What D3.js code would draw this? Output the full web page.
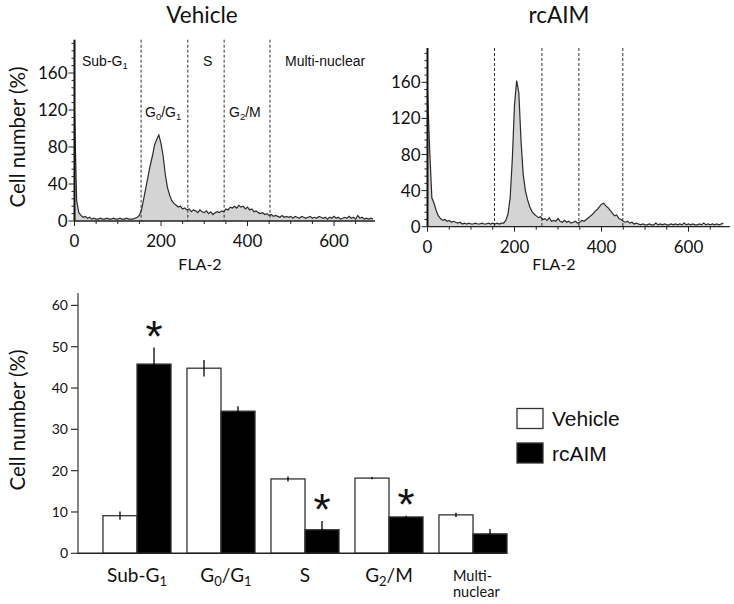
<!DOCTYPE html>
<html><head><meta charset="utf-8">
<script src="https://cdn.jsdelivr.net/npm/d3@7/dist/d3.min.js"></script>
<style>body{margin:0;background:#fff}svg{display:block}</style>
</head><body>
<svg id="c" width="734" height="604"></svg>
<script>
// ---------- DATA ----------
// FLA-2 channel bins (5-unit bins starting at 0)
const binWidth = 5;
const vehicleHist = [118,22,9,6,4,5,3,4,2,3,2,2,3,2,2,3,2,2,3,2,2,3,2,2,3,2,2,2,3,4,
  6,12,24,36,48,60,70,82,88,93,84,70,50,36,28,22,19,17,15,16,13,14,12,13,10,12,11,9,12,10,
  9,11,8,10,7,9,10,9,11,10,13,12,15,14,16,14,17,15,16,13,15,12,13,10,11,9,8,9,7,8,
  6,7,5,6,5,4,6,4,5,4,5,3,5,4,3,5,4,3,4,5,3,4,3,5,4,3,4,2,4,3,
  5,3,4,2,3,4,3,5,3,4,2,6,3,4,2,3,2,3,2];
const rcaimHist = [150,85,32,26,18,12,9,7,8,6,7,5,6,5,4,5,3,4,3,4,3,3,4,3,3,4,3,3,4,3,
  4,3,4,3,4,4,7,14,32,75,135,162,148,95,58,40,30,22,17,14,12,10,11,8,9,7,10,6,7,6,
  9,6,5,7,5,6,4,5,6,4,5,7,6,8,10,12,14,17,19,22,25,26,23,21,18,15,12,13,9,8,
  6,5,6,4,5,3,4,3,2,3,2,2,3,2,2,4,2,3,2,3,2,2,3,2,3,2,3,2,4,2,
  3,2,3,2,2,3,2,4,2,3,2,3,2,3,2,3,4];
const vehicleGates = [154, 262, 346, 452];
const rcaimGates = [154, 263, 348, 449];
const histXTicks = [0, 200, 400, 600];
const histYTicks = [0, 40, 80, 120, 160];

const phases = ["Sub-G_1", "G_0/G_1", "S", "G_2/M", "Multi-nuclear"];
const vehicleMean = [9.1, 44.8, 18.0, 18.2, 9.3];
const vehicleErr  = [1.0, 2.0, 0.6, 0.25, 0.5];
const rcaimMean   = [45.8, 34.4, 5.7, 8.8, 4.7];
const rcaimErr    = [4.0, 1.2, 2.1, 0.3, 1.2];
const significant = [true, false, true, true, false];
const barYTicks = [0, 10, 20, 30, 40, 50, 60];
const seriesNames = ["Vehicle", "rcAIM"];

// ---------- HELPERS ----------
const svg = d3.select("#c");
const CAL = "Lato, 'Open Sans', sans-serif";
const ARI = "'Liberation Sans', Arial, sans-serif";

function richText(sel, str, subSize, shift) {
  // "_x" => x as subscript
  const parts = [];
  let i = 0, buf = "";
  while (i < str.length) {
    if (str[i] === "_") { if (buf) parts.push([buf, false]); buf = ""; parts.push([str[i+1], true]); i += 2; }
    else { buf += str[i]; i++; }
  }
  if (buf) parts.push([buf, false]);
  let prevSub = false;
  parts.forEach(([t, sub]) => {
    const ts = sel.append("tspan").text(t);
    if (sub) { ts.attr("font-size", subSize).attr("dy", prevSub ? 0 : shift); }
    else if (prevSub) { ts.attr("dy", -shift); }
    prevSub = sub;
  });
}

function drawHist(cfg) {
  const g = svg.append("g");
  const x = d3.scaleLinear().domain([0, 695]).range([cfg.x0, cfg.x0 + 695 * cfg.kx]);
  const y = d3.scaleLinear().domain([0, cfg.ymax]).range([cfg.yb, cfg.yb - cfg.ymax * cfg.ky]);
  const pts = cfg.data.map((v, i) => [i * binWidth, v]);

  g.append("path").datum(pts)
    .attr("d", d3.area().x(d => x(d[0])).y0(y(0)).y1(d => y(d[1])))
    .attr("fill", "#d4d4d4");
  g.append("path").datum(pts)
    .attr("d", d3.line().x(d => x(d[0])).y(d => y(d[1])))
    .attr("fill", "none").attr("stroke", "#2b2b2b").attr("stroke-width", 1.2);

  // gates
  g.selectAll(".gate").data(cfg.gates).enter().append("line")
    .attr("x1", d => x(d)).attr("x2", d => x(d))
    .attr("y1", y(cfg.ymax)).attr("y2", y(0))
    .attr("stroke", "#333").attr("stroke-width", 1).attr("stroke-dasharray", "3,2");

  // axes lines
  g.append("line").attr("x1", x(0)).attr("x2", x(695)).attr("y1", y(0)).attr("y2", y(0))
    .attr("stroke", "#222").attr("stroke-width", 1.3);
  g.append("line").attr("x1", x(0)).attr("x2", x(0)).attr("y1", y(0)).attr("y2", y(cfg.ymax))
    .attr("stroke", "#111").attr("stroke-width", 2);

  // x ticks
  const xt = d3.range(0, 695, 50);
  g.selectAll(".xt").data(xt).enter().append("line")
    .attr("x1", d => x(d)).attr("x2", d => x(d))
    .attr("y1", y(0)).attr("y2", d => y(0) + (histXTicks.includes(d) ? 5 : 3))
    .attr("stroke", "#222").attr("stroke-width", 1);
  g.selectAll(".xl").data(histXTicks).enter().append("text")
    .attr("x", d => x(d)).attr("y", y(0) + 26).attr("text-anchor", "middle")
    .attr("font-family", CAL).attr("font-size", 17).attr("fill", "#111").text(d => d);

  // y ticks
  const yt = d3.range(0, cfg.ymax, 8);
  g.selectAll(".yt").data(yt).enter().append("line")
    .attr("x1", x(0)).attr("x2", d => x(0) - (histYTicks.includes(d) ? 6 : 3))
    .attr("y1", d => y(d)).attr("y2", d => y(d))
    .attr("stroke", "#222").attr("stroke-width", 1);
  g.selectAll(".yl").data(histYTicks).enter().append("text")
    .attr("x", x(0) - 7).attr("y", d => y(d) + 6).attr("text-anchor", "end")
    .attr("font-family", CAL).attr("font-size", 17).attr("fill", "#111").text(d => d);

  // title & x label
  svg.append("text").attr("x", cfg.titleX).attr("y", 23).attr("text-anchor", "middle")
    .attr("font-family", CAL).attr("font-size", 22.5).attr("fill", "#111").text(cfg.title);
  svg.append("text").attr("x", cfg.flaX).attr("y", 270).attr("text-anchor", "middle")
    .attr("font-family", CAL).attr("font-size", 16).attr("fill", "#111").text("FLA-2");
  return {x, y};
}

// ---------- TOP PANELS ----------
drawHist({data: vehicleHist, gates: vehicleGates, x0: 74.5, kx: 0.4325,
  yb: 221, ky: 0.925, ymax: 196, title: "Vehicle", titleX: 202, flaX: 200});
drawHist({data: rcaimHist, gates: rcaimGates, x0: 427.5, kx: 0.435,
  yb: 226.7, ky: 0.9025, ymax: 198, title: "rcAIM", titleX: 559, flaX: 554});

// phase labels in left panel
const phaseLabels = [
  {t: "Sub-G_1", x: 82, y: 66},
  {t: "S", x: 203, y: 66},
  {t: "Multi-nuclear", x: 285, y: 66},
  {t: "G_0/G_1", x: 145, y: 117},
  {t: "G_2/M", x: 229, y: 117}
];
phaseLabels.forEach(p => {
  const t = svg.append("text").attr("x", p.x).attr("y", p.y)
    .attr("font-family", ARI).attr("font-size", 14).attr("fill", "#111");
  richText(t, p.t, 9.5, 3);
});

// y-axis title top
svg.append("text").attr("transform", "translate(25,137) rotate(-90)")
  .attr("text-anchor", "middle").attr("font-family", CAL).attr("font-size", 20.5)
  .attr("fill", "#111").text("Cell number (%)");

// ---------- BAR CHART ----------
const by = d3.scaleLinear().domain([0, 63]).range([553.3, 293]);
const bx = d3.scaleBand().domain(phases).range([95, 515]).paddingInner(0.19).paddingOuter(0.095);
const bw = bx.bandwidth() / 2;
const bg = svg.append("g");

bg.append("line").attr("x1", 78).attr("x2", 78).attr("y1", by(0)).attr("y2", by(63))
  .attr("stroke", "#333").attr("stroke-width", 1.2);
bg.selectAll(".byt").data(barYTicks).enter().append("line")
  .attr("x1", 71).attr("x2", 78).attr("y1", d => by(d)).attr("y2", d => by(d))
  .attr("stroke", "#333").attr("stroke-width", 1.2);
bg.selectAll(".byl").data(barYTicks).enter().append("text")
  .attr("x", 68).attr("y", d => by(d) + 5).attr("text-anchor", "end")
  .attr("font-family", CAL).attr("font-size", 14).attr("fill", "#111").text(d => d);

const series = [
  {name: seriesNames[0], mean: vehicleMean, err: vehicleErr, fill: "#fff", off: 0},
  {name: seriesNames[1], mean: rcaimMean, err: rcaimErr, fill: "#000", off: bw}
];
series.forEach(s => {
  bg.selectAll(null).data(phases).enter().append("rect")
    .attr("x", d => bx(d) + s.off).attr("width", bw)
    .attr("y", (d, i) => by(s.mean[i])).attr("height", (d, i) => by(0) - by(s.mean[i]))
    .attr("fill", s.fill).attr("stroke", "#333").attr("stroke-width", 1.3);
  bg.selectAll(null).data(phases).enter().append("line")
    .attr("x1", d => bx(d) + s.off + bw / 2).attr("x2", d => bx(d) + s.off + bw / 2)
    .attr("y1", (d, i) => by(s.mean[i] - s.err[i])).attr("y2", (d, i) => by(s.mean[i] + s.err[i]))
    .attr("stroke", "#000").attr("stroke-width", 1.3);
});
bg.append("line").attr("x1", 78).attr("x2", 505).attr("y1", by(0)).attr("y2", by(0))
  .attr("stroke", "#222").attr("stroke-width", 1.5);

// asterisks
phases.forEach((p, i) => {
  if (!significant[i]) return;
  const cy = by(rcaimMean[i] + rcaimErr[i]) - 21;
  bg.append("text").attr("x", bx(p) + bw * 1.5).attr("y", cy + 25)
    .attr("text-anchor", "middle").attr("font-family", ARI).attr("font-size", 44)
    .attr("fill", "#111").text("*");
});

// x labels
phases.forEach((p, i) => {
  const cx = bx(p) + bw;
  if (p === "Multi-nuclear") {
    const t = bg.append("text").attr("x", 453).attr("y", 581)
      .attr("font-family", CAL).attr("font-size", 14.5).attr("fill", "#111");
    t.append("tspan").attr("x", 453).text("Multi-");
    t.append("tspan").attr("x", 453).attr("dy", 16).text("nuclear");
  } else {
    const t = bg.append("text").attr("x", cx + (i === 1 ? 5 : 0)).attr("y", 582)
      .attr("text-anchor", "middle").attr("font-family", CAL).attr("font-size", 19).attr("fill", "#111");
    richText(t, p, 13, 4);
  }
});

svg.append("text").attr("transform", "translate(25,420) rotate(-90)")
  .attr("text-anchor", "middle").attr("font-family", CAL).attr("font-size", 20.5)
  .attr("fill", "#111").text("Cell number (%)");

// legend
const lg = svg.append("g");
series.forEach((s, i) => {
  lg.append("rect").attr("x", 517).attr("y", 408.5 + i * 34.5).attr("width", 26).attr("height", 20)
    .attr("fill", s.fill).attr("stroke", "#333").attr("stroke-width", 1.3);
  lg.append("text").attr("x", 552).attr("y", 426 + i * 34.5)
    .attr("font-family", ARI).attr("font-size", 21).attr("fill", "#111").text(s.name);
});
</script>
</body></html>
